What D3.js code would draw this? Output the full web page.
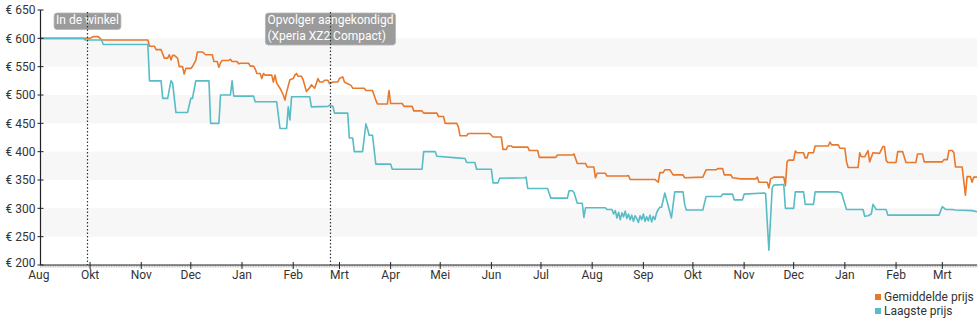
<!DOCTYPE html>
<html>
<head>
<meta charset="utf-8">
<script src="https://cdn.jsdelivr.net/npm/d3@7"></script>
<style>
  body { margin: 0; background: #fff; }
  svg { display: block; font-family: Roboto, "Noto Sans", "DejaVu Sans", sans-serif; }
</style>
</head>
<body>
<svg id="chart" width="980" height="325"></svg>
<script>
// Price history, days counted from 1 September 2017.
const startDate = new Date(2017, 8, 1);
const lastDay = 567;

const priceTicks = [200, 250, 300, 350, 400, 450, 500, 550, 600, 650];
const shadedBands = [[250, 300], [350, 400], [450, 500], [550, 600]];

const monthTickDates = ["2017-08-31", "2017-10-01", "2017-11-01", "2017-12-01", "2018-01-01",
  "2018-02-01", "2018-03-01", "2018-04-01", "2018-05-01", "2018-06-01", "2018-07-01",
  "2018-08-01", "2018-09-01", "2018-10-01", "2018-11-01", "2018-12-01", "2019-01-01",
  "2019-02-01", "2019-03-01"];
const monthTickLabels = ["Aug", "Okt", "Nov", "Dec", "Jan", "Feb", "Mrt", "Apr", "Mei",
  "Jun", "Jul", "Aug", "Sep", "Okt", "Nov", "Dec", "Jan", "Feb", "Mrt"];

const eventDates = ["2017-09-29", "2018-02-23"];
const eventTexts = [["In de winkel"], ["Opvolger aangekondigd", "(Xperia XZ2 Compact)"]];

const seriesNames = ["Gemiddelde prijs", "Laagste prijs"];
const seriesColors = ["#e8782c", "#57bcc5"];

// [day, price in euro]
const averagePrice = [
  [0,600],[30,600],[32,603],[35,603],[37,597],[65,597],[66,586],[69,586],[70,580],[73,580],
  [75,565],[77,565],[78,571],[79,562],[80,570],[81,570],[83,565],[84,550],[86,550],[87,537],
  [88,547],[91,547],[92,550],[94,561],[95,576],[98,576],[100,571],[104,571],[105,559],[107,559],
  [108,549],[109,557],[110,561],[114,561],[115,563],[116,559],[119,559],[120,555],[121,556],[126,556],
  [127,551],[129,551],[130,546],[131,538],[133,538],[134,529],[135,538],[136,535],[140,535],[141,523],
  [142,535],[143,521],[145,512],[147,500],[148,491],[149,505],[151,527],[153,529],[154,535],[155,538],
  [156,533],[158,533],[159,527],[161,506],[163,513],[164,518],[166,512],[168,529],[169,523],[171,523],
  [172,526],[174,526],[175,520],[177,523],[180,523],[181,529],[183,532],[184,523],[186,520],[188,517],
  [189,512],[196,512],[197,508],[201,508],[203,491],[204,484],[210,484],[211,508],[212,485],[219,485],
  [220,480],[225,480],[226,472],[231,472],[232,468],[240,468],[241,462],[244,462],[245,450],[252,450],
  [253,444],[254,428],[258,428],[259,432],[272,432],[274,426],[279,426],[280,404],[282,404],[283,410],
  [285,410],[286,408],[295,408],[296,402],[301,402],[302,390],[312,390],[313,394],[322,394],[323,396],
  [325,379],[330,379],[331,373],[335,373],[336,354],[337,362],[342,362],[343,357],[355,357],[356,358],
  [357,351],[372,351],[374,346],[375,363],[377,363],[378,368],[381,368],[383,359],[389,359],[390,354],
  [401,355],[403,368],[409,368],[410,370],[413,370],[414,359],[418,359],[419,354],[424,352],[433,352],
  [434,355],[435,346],[440,346],[441,336],[442,352],[444,355],[450,355],[451,340],[452,382],[453,385],
  [456,385],[457,401],[458,398],[462,398],[463,389],[464,389],[465,398],[468,398],[469,410],[477,410],
  [478,417],[479,412],[483,412],[484,406],[487,406],[488,382],[489,372],[495,372],[496,398],[497,391],
  [499,391],[501,402],[502,382],[504,398],[508,397],[510,409],[511,409],[512,385],[513,381],[518,381],
  [519,400],[522,400],[524,381],[530,381],[531,396],[534,396],[535,382],[546,382],[547,386],[549,386],
  [550,402],[552,402],[553,398],[554,373],[558,373],[560,323],[561,356],[563,356],[564,346],[565,355],
  [567,355]
];

const lowestPrice = [
  [0,600],[26,600],[27,597],[37,597],[38,589],[65,589],[66,525],[73,525],[74,494],[77,494],
  [78,510],[79,525],[80,521],[82,469],[89,469],[91,494],[92,494],[94,525],[102,525],[103,450],
  [108,450],[109,500],[115,500],[116,525],[117,498],[129,498],[130,488],[143,488],[145,441],[149,441],
  [150,479],[151,456],[152,497],[163,497],[164,479],[174,480],[175,482],[177,480],[178,468],[186,468],
  [187,424],[189,424],[190,400],[195,400],[197,449],[198,440],[199,429],[201,429],[203,378],[212,378],
  [213,369],[231,369],[232,400],[239,400],[240,392],[252,389],[257,388],[258,381],[263,381],[264,369],
  [273,369],[274,345],[277,345],[278,353],[293,354],[294,355],[295,335],[307,335],[309,318],[319,318],
  [320,331],[322,331],[323,328],[325,309],[328,309],[329,284],[330,301],[342,301],[343,298],[346,298],
  [347,290],[348,296],[349,283],[350,293],[351,280],[352,292],[353,285],[354,295],[355,282],[356,290],
  [357,280],[358,288],[359,277],[360,287],[361,282],[362,275],[363,287],[364,280],[365,290],[366,277],
  [367,285],[368,278],[369,288],[370,276],[371,286],[372,280],[373,292],[374,298],[375,302],[376,302],
  [378,327],[382,283],[384,329],[389,329],[390,307],[391,297],[401,297],[403,321],[412,321],[413,325],
  [419,325],[420,315],[425,315],[426,325],[438,327],[439,326],[441,226],[443,336],[444,341],[450,342],
  [451,300],[456,300],[457,329],[462,329],[463,307],[468,307],[469,329],[483,329],[485,327],[488,298],
  [498,298],[499,286],[501,287],[503,290],[504,307],[506,298],[512,298],[513,288],[544,288],[546,303],
  [548,298],[552,298],[554,297],[564,296],[567,294]
];

const svg = d3.select("#chart");
const W = 980, H = 325;
const plot = { left: 40.5, right: 977, top: 10, bottom: 265 };

const dayToDate = d => d3.timeDay.offset(startDate, d);
const parse = d3.timeParse("%Y-%m-%d");

const x = d3.scaleTime()
  .domain([startDate, dayToDate(lastDay)])
  .range([plot.left, plot.right]);
const y = d3.scaleLinear()
  .domain([200, 650])
  .range([plot.bottom, plot.top]);

svg.append("rect").attr("width", W).attr("height", H).attr("fill", "#fff");

// alternating grey bands
svg.append("g").selectAll("rect")
  .data(shadedBands)
  .join("rect")
  .attr("x", plot.left)
  .attr("width", plot.right - plot.left)
  .attr("y", d => y(d[1]))
  .attr("height", d => y(d[0]) - y(d[1]))
  .attr("fill", "#f7f7f7");

// price lines
const line = d3.line()
  .x(d => x(dayToDate(d[0])))
  .y(d => y(d[1]));

[averagePrice, lowestPrice].forEach((series, i) => {
  svg.append("path")
    .datum(series)
    .attr("d", line)
    .attr("fill", "none")
    .attr("stroke", seriesColors[i])
    .attr("stroke-width", 1.6)
    .attr("stroke-linejoin", "round");
});

// y axis
const yAxis = svg.append("g").attr("transform", `translate(${plot.left},0)`);
yAxis.append("line")
  .attr("y1", plot.top).attr("y2", plot.bottom)
  .attr("stroke", "#222").attr("stroke-width", 1.2);
const yt = yAxis.selectAll("g.tick").data(priceTicks).join("g")
  .attr("class", "tick")
  .attr("transform", d => `translate(0,${y(d)})`);
yt.append("line").attr("x1", -3).attr("x2", 3).attr("stroke", "#222");
yt.append("text")
  .attr("x", -5)
  .attr("dy", d => d === 200 ? "0.15em" : "0.35em")
  .attr("text-anchor", "end")
  .attr("font-size", 12)
  .attr("fill", "#333")
  .text(d => "€ " + d);

// x axis
const xAxis = svg.append("g").attr("transform", `translate(0,${plot.bottom})`);
// daily minor ticks
xAxis.append("g").selectAll("line")
  .data(d3.range(0, lastDay + 1))
  .join("line")
  .attr("x1", d => x(dayToDate(d))).attr("x2", d => x(dayToDate(d)))
  .attr("y1", 0).attr("y2", 2.5)
  .attr("stroke", "#999").attr("stroke-width", 0.6);
xAxis.append("line")
  .attr("x1", plot.left).attr("x2", plot.right)
  .attr("stroke", "#222").attr("stroke-width", 1.2);
const monthTicks = monthTickDates.map((d, i) => ({ date: parse(d), label: monthTickLabels[i] }));
const xt = xAxis.selectAll("g.tick").data(monthTicks).join("g")
  .attr("class", "tick")
  .attr("transform", d => `translate(${x(d.date)},0)`);
xt.filter(d => d.date >= startDate)
  .append("line").attr("y1", -3).attr("y2", 4).attr("stroke", "#222");
xt.append("text")
  .attr("y", 14)
  .attr("text-anchor", "middle")
  .attr("font-size", 12)
  .attr("fill", "#333")
  .text(d => d.label);

// event markers
eventDates.forEach((ds, i) => {
  const ex = Math.round(x(parse(ds))) + 0.5;
  const g = svg.append("g");
  const lines = eventTexts[i];
  const top = 13;
  const txt = g.append("text")
    .attr("font-size", 12)
    .attr("fill", "#fff")
    .attr("text-anchor", "start");
  lines.forEach((t, j) => {
    txt.append("tspan").attr("x", 0).attr("y", top + 11 + j * 15.5).text(t);
  });
  const w = txt.node().getBBox().width;
  const boxW = w + 4;
  const bx = ex - boxW / 2;
  txt.selectAll("tspan").attr("x", bx + 2);
  g.insert("rect", "text")
    .attr("x", bx).attr("y", top)
    .attr("width", boxW).attr("height", lines.length * 15.5 + 1)
    .attr("rx", 3)
    .attr("fill", "#9b9b9b")
    .attr("stroke", "#b5b5b5").attr("stroke-width", 0.8);
  svg.append("line")
    .attr("x1", ex).attr("x2", ex)
    .attr("y1", top - 1).attr("y2", plot.bottom)
    .attr("stroke", "#333").attr("stroke-width", 1.2)
    .attr("stroke-dasharray", "1.5,2");
});

// legend
const legend = svg.append("g").attr("transform", "translate(875,294)");
seriesNames.forEach((name, i) => {
  const row = legend.append("g").attr("transform", `translate(0,${i * 14})`);
  row.append("rect").attr("width", 6).attr("height", 6).attr("fill", seriesColors[i]);
  row.append("text")
    .attr("x", 9).attr("y", 7)
    .attr("font-size", 12)
    .attr("fill", "#333")
    .text(name);
});
</script>
</body>
</html>
